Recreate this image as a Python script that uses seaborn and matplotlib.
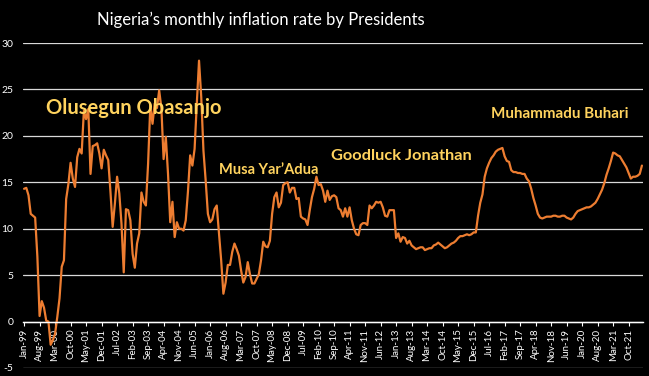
import matplotlib
matplotlib.use("Agg")
import matplotlib.pyplot as plt
import numpy as np
import pandas as pd
import seaborn as sns

# Monthly inflation rate (%), Jan-99 .. Apr-22
rate_1999 = [14.3, 14.4, 13.6, 11.6, 11.4, 11.2, 7.0, 0.6, 2.2, 1.5, 0.1, 0.0]
rate_2000 = [-2.5, -2.0, -1.3, 0.5, 2.5, 5.9, 6.6, 13.2, 14.8, 17.1, 15.4, 14.5]
rate_2001 = [17.7, 18.6, 18.1, 22.7, 21.8, 22.9, 15.9, 18.9, 19.0, 19.2, 18.1, 16.5]
rate_2002 = [18.5, 17.9, 17.4, 14.0, 10.2, 12.7, 15.6, 13.8, 10.5, 5.3, 12.1, 12.0]
rate_2003 = [10.9, 7.3, 5.8, 8.4, 9.5, 13.9, 12.9, 12.5, 17.0, 23.3, 21.3, 23.5]
rate_2004 = [23.0, 24.9, 23.0, 17.5, 19.9, 15.9, 10.7, 12.9, 9.1, 10.7, 10.0, 10.0]
rate_2005 = [9.8, 10.9, 14.0, 17.9, 16.8, 18.6, 23.5, 28.1, 24.2, 18.4, 15.2, 11.6]
rate_2006 = [10.7, 11.0, 12.1, 12.5, 9.5, 6.6, 3.0, 4.2, 6.1, 6.1, 7.5, 8.4]
rate_2007 = [7.8, 7.1, 5.5, 4.2, 4.8, 6.4, 5.1, 4.1, 4.1, 4.6, 5.1, 6.6]
rate_2008 = [8.6, 8.1, 8.0, 8.7, 11.6, 13.4, 13.9, 12.3, 12.8, 14.7, 14.9, 15.0]
rate_2009 = [13.9, 14.4, 14.4, 13.2, 13.3, 11.3, 11.1, 11.0, 10.4, 12.0, 13.4, 14.3]
rate_2010 = [15.6, 14.7, 14.8, 14.1, 12.9, 14.1, 13.1, 13.5, 13.6, 13.4, 12.2, 12.0]
rate_2011 = [11.3, 12.2, 11.3, 12.3, 10.9, 10.0, 9.4, 9.3, 10.4, 10.6, 10.6, 10.4]
rate_2012 = [12.5, 12.2, 12.5, 12.9, 12.8, 12.9, 12.3, 11.4, 11.3, 12.0, 12.0, 12.0]
rate_2013 = [9.0, 9.5, 8.6, 9.1, 9.0, 8.4, 8.7, 8.2, 8.0, 7.8, 7.9, 8.0]
rate_2014 = [8.0, 7.7, 7.8, 7.9, 7.9, 8.2, 8.3, 8.5, 8.3, 8.1, 7.9, 8.0]
rate_2015 = [8.2, 8.4, 8.5, 8.7, 9.0, 9.2, 9.2, 9.3, 9.4, 9.3, 9.4, 9.6]
rate_2016 = [9.6, 11.4, 12.8, 13.7, 15.6, 16.5, 17.1, 17.6, 17.9, 18.3, 18.5, 18.6]
rate_2017 = [18.7, 17.8, 17.3, 17.2, 16.3, 16.1, 16.1, 16.0, 16.0, 15.9, 15.9, 15.4]
rate_2018 = [15.1, 14.3, 13.3, 12.5, 11.6, 11.2, 11.1, 11.2, 11.3, 11.3, 11.3, 11.4]
rate_2019 = [11.4, 11.3, 11.3, 11.4, 11.4, 11.2, 11.1, 11.0, 11.2, 11.6, 11.9, 12.0]
rate_2020 = [12.1, 12.2, 12.3, 12.3, 12.4, 12.6, 12.8, 13.2, 13.7, 14.2, 14.9, 15.8]
rate_2021 = [16.5, 17.3, 18.2, 18.1, 17.9, 17.8, 17.4, 17.0, 16.6, 16.0, 15.4, 15.6]
rate_2022 = [15.6, 15.7, 15.9, 16.8]

presidents = ["Olusegun Obasanjo", "Musa Yar\u2019Adua", "Goodluck Jonathan", "Muhammadu Buhari"]
first_month = "1999-01"
label_every = 7

rates = (rate_1999 + rate_2000 + rate_2001 + rate_2002 + rate_2003 + rate_2004
         + rate_2005 + rate_2006 + rate_2007 + rate_2008 + rate_2009 + rate_2010
         + rate_2011 + rate_2012 + rate_2013 + rate_2014 + rate_2015 + rate_2016
         + rate_2017 + rate_2018 + rate_2019 + rate_2020 + rate_2021 + rate_2022)
months = pd.date_range(first_month, periods=len(rates), freq="MS")
df = pd.DataFrame({"pos": np.arange(len(rates)), "rate": rates})

sns.set_theme(style="dark")
plt.rcParams["font.family"] = ["Lato", "DejaVu Sans"]
plt.rcParams["axes.unicode_minus"] = False

bg = "black"
orange = "#ED7D31"
gold = "#FFD35E"
grey = "#D9D9D9"

fig = plt.figure(figsize=(6.49, 3.76), dpi=100, facecolor=bg)
ax = fig.add_axes([0.0354, 0.0213, 0.9554, 0.8643])
ax.set_facecolor(bg)

sns.lineplot(data=df, x="pos", y="rate", color=orange, linewidth=1.6, ax=ax)

ax.set_xlim(-0.5, len(rates) - 0.5)
ax.set_ylim(-5, 30)
ax.set_yticks(np.arange(-5, 31, 5))
ax.yaxis.grid(True, color=grey, linewidth=0.9)
ax.xaxis.grid(False)
ax.set_axisbelow(True)

tick_pos = np.arange(0, len(rates), label_every)
ax.set_xticks(tick_pos)
ax.set_xticklabels([months[i].strftime("%b-%y") for i in tick_pos])

for s in ["top", "right", "left"]:
    ax.spines[s].set_visible(False)
ax.spines["bottom"].set_position(("data", 0))
ax.spines["bottom"].set_color("white")
ax.spines["bottom"].set_linewidth(1.0)

ax.tick_params(axis="x", colors="white", labelsize=7, length=3, width=0.8, pad=2,
               direction="out", bottom=True, labelrotation=90)
ax.tick_params(axis="y", colors="white", labelsize=7.5, length=0, pad=7)
ax.set_xlabel("")
ax.set_ylabel("")

# President names
ax.text(10, 23.0, presidents[0], color=gold, fontsize=14.5, fontweight="bold", va="center")
ax.text(88, 16.3, presidents[1], color=gold, fontsize=10.5, fontweight="bold", va="center")
ax.text(138.5, 17.8, presidents[2], color=gold, fontsize=11.8, fontweight="bold", va="center")
ax.text(211, 22.4, presidents[3], color=gold, fontsize=10.9, fontweight="bold", va="center")

fig.text(0.402, 0.947, "Nigeria\u2019s monthly inflation rate by Presidents",
         color="white", fontsize=12, ha="center", va="center")

plt.savefig("out.png", dpi=100, facecolor=bg)
